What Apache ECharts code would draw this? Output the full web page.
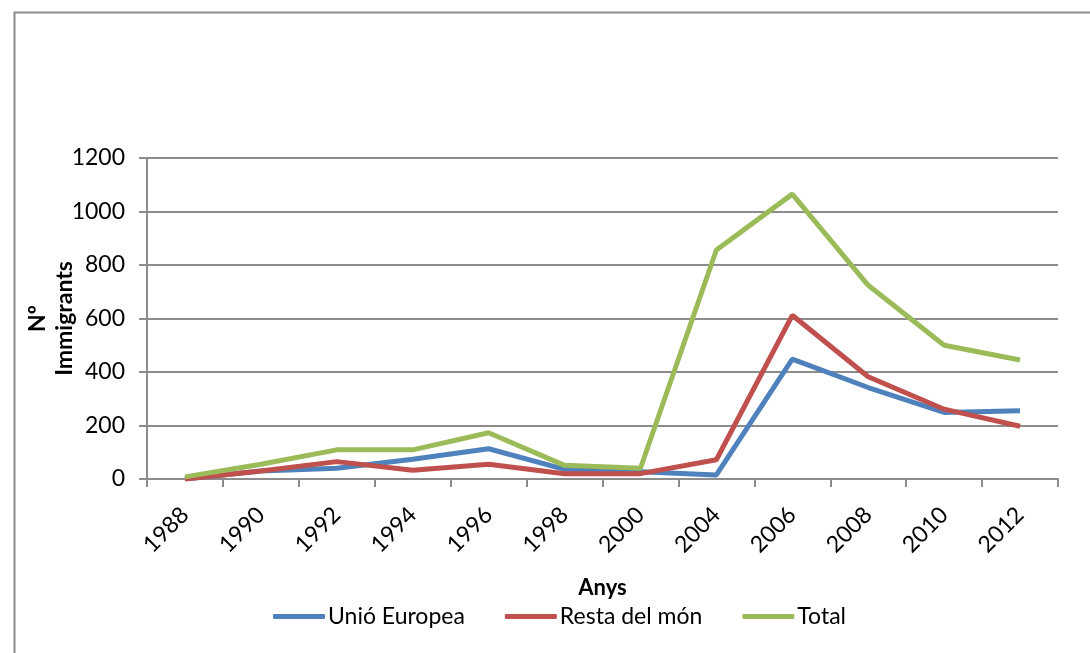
<!DOCTYPE html>
<html>
<head>
<meta charset="utf-8">
<script src="https://cdn.jsdelivr.net/npm/echarts@6/dist/echarts.min.js"></script>
<style>html,body{margin:0;padding:0;background:#fff}#c{width:1090px;height:653px}</style>
</head>
<body>
<div id="c"></div>
<script>
const categories = ['1988','1990','1992','1994','1996','1998','2000','2004','2006','2008','2010','2012'];
const unioEuropea = [0, 30, 40, 74, 113, 36, 27, 15, 448, 342, 249, 255];
const restaDelMon = [0, 30, 65, 33, 55, 20, 20, 72, 612, 382, 261, 197];
const total = [8, 55, 109, 109, 173, 51, 40, 856, 1065, 724, 500, 445];
const yTicks = [0, 200, 400, 600, 800, 1000, 1200];

const FONT = 'Lato, "Open Sans", sans-serif';
const chart = echarts.init(document.getElementById('c'));
chart.setOption({
  animation: false,
  backgroundColor: '#fff',
  textStyle: { fontFamily: FONT, color: '#000' },
  graphic: [{
    type: 'rect', left: 12, top: 10, silent: true,
    shape: { width: 1100, height: 700 },
    style: { fill: 'none', stroke: '#8c8c8c', lineWidth: 2 }
  }],
  grid: { left: 147, right: 32, top: 158, bottom: 174 },
  legend: {
    bottom: 20, left: 268,
    itemWidth: 52, itemHeight: 5, itemGap: 40,
    icon: 'roundRect',
    textStyle: { fontSize: 23, fontFamily: FONT, color: '#000', padding: [0, 0, 0, -2] },
    data: ['Unió Europea', 'Resta del món', 'Total']
  },
  xAxis: {
    type: 'category', data: categories, boundaryGap: true,
    name: 'Anys', nameLocation: 'middle', nameGap: 98, nameMoveOverlap: false,
    nameTextStyle: { fontSize: 22, fontWeight: 'bold', fontFamily: FONT, color: '#000' },
    axisLine: { lineStyle: { color: '#8c8c8c', width: 2 } },
    axisTick: { show: true, length: 8, lineStyle: { color: '#8c8c8c', width: 2 } },
    axisLabel: { rotate: 45, fontSize: 23, color: '#000', fontFamily: FONT, margin: 32, interval: 0 }
  },
  yAxis: {
    type: 'value', min: 0, max: 1200, interval: 200,
    name: 'Nº\nImmigrants', nameLocation: 'middle', nameGap: 69, nameRotate: 90, nameMoveOverlap: false,
    nameTextStyle: { fontSize: 23, fontWeight: 'bold', fontFamily: FONT, color: '#000', lineHeight: 27 },
    axisLine: { show: true, lineStyle: { color: '#8c8c8c', width: 2 } },
    axisTick: { show: true, length: 8, lineStyle: { color: '#8c8c8c', width: 2 } },
    axisLabel: { fontSize: 23, color: '#000', fontFamily: FONT, margin: 22,
      formatter: v => yTicks.includes(v) ? String(v) : '' },
    splitLine: { lineStyle: { color: '#8c8c8c', width: 2 } }
  },
  series: [
    { name: 'Unió Europea', type: 'line', data: unioEuropea, symbol: 'none',
      lineStyle: { color: '#4F81BD', width: 5 }, itemStyle: { color: '#4F81BD' } },
    { name: 'Resta del món', type: 'line', data: restaDelMon, symbol: 'none',
      lineStyle: { color: '#C0504D', width: 5 }, itemStyle: { color: '#C0504D' } },
    { name: 'Total', type: 'line', data: total, symbol: 'none',
      lineStyle: { color: '#9BBB59', width: 5 }, itemStyle: { color: '#9BBB59' } }
  ]
});
</script>
</body>
</html>
